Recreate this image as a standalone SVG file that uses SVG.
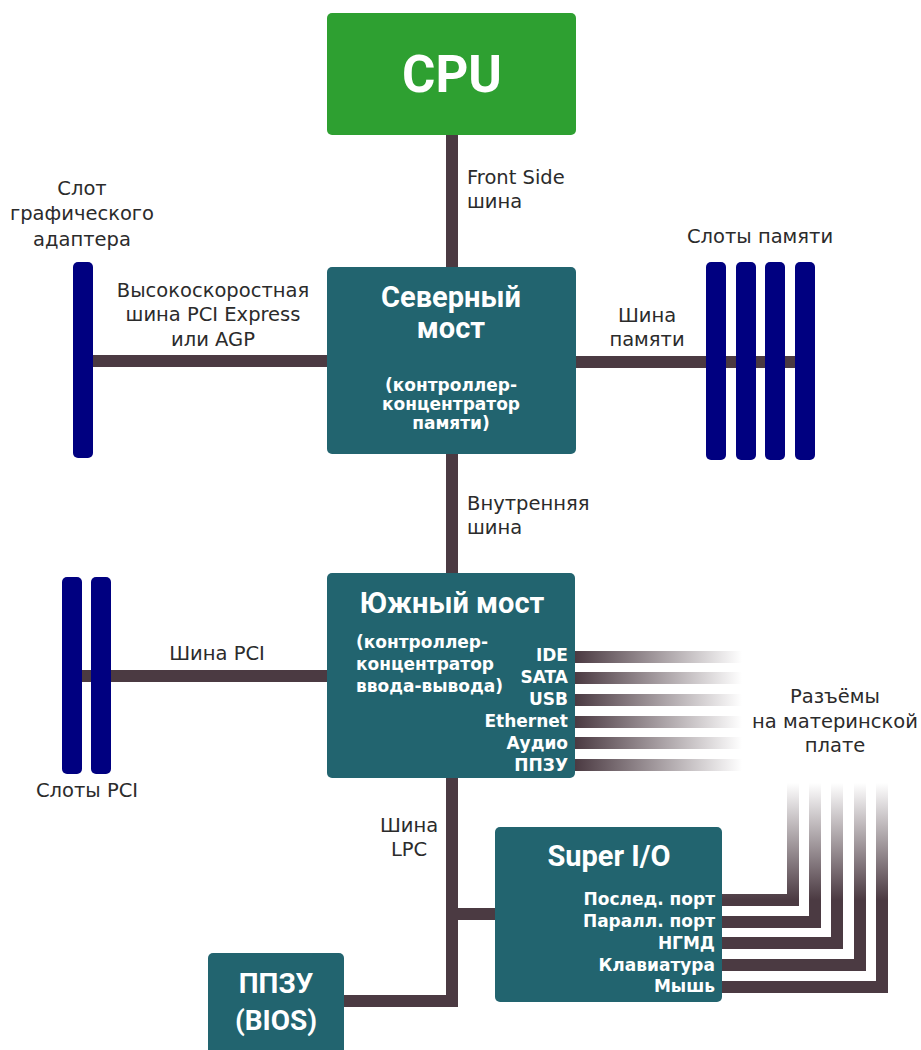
<svg xmlns="http://www.w3.org/2000/svg" width="921" height="1050" viewBox="0 0 921 1050">
<style>
.box{fill:#22646f}
.cpu{fill:#2ea031}
.slot{fill:#000080}
.bus{fill:none;stroke:#4b3a42;stroke-width:12;stroke-linejoin:miter;stroke-linecap:butt}
.title{font-family:Roboto,"Liberation Sans",sans-serif;font-weight:bold;fill:#ffffff;text-anchor:middle}
.sub{font-family:"DejaVu Sans",Verdana,sans-serif;font-weight:bold;font-size:17px;fill:#ffffff}
.lbl{font-family:"DejaVu Sans",Verdana,sans-serif;font-size:19.5px;fill:#2b2b2b}
.r{text-anchor:end}
.m{text-anchor:middle}
</style>
<defs>
<linearGradient id="gh" gradientUnits="userSpaceOnUse" x1="575" y1="0" x2="742" y2="0">
<stop offset="0" stop-color="#4b3a42"/>
<stop offset="1" stop-color="#4b3a42" stop-opacity="0"/>
</linearGradient>
<linearGradient id="gv" gradientUnits="userSpaceOnUse" x1="0" y1="900" x2="0" y2="783">
<stop offset="0" stop-color="#4b3a42"/>
<stop offset="1" stop-color="#4b3a42" stop-opacity="0"/>
</linearGradient>
</defs>

<g id="connectors">
<path class="bus" d="M452 134 V268"/>
<path class="bus" d="M452 453 V574"/>
<path class="bus" d="M83 361 H328"/>
<path class="bus" d="M575 362 H805"/>
<path class="bus" d="M72 676 H328"/>
<path class="bus" d="M452 777 V1001 H343"/>
<path class="bus" d="M452 914 H496"/>
<g fill="url(#gh)">
<rect x="575" y="651" width="167" height="12"/>
<rect x="575" y="672" width="167" height="12"/>
<rect x="575" y="694" width="167" height="12"/>
<rect x="575" y="716" width="167" height="12"/>
<rect x="575" y="737" width="167" height="12"/>
<rect x="575" y="759" width="167" height="12"/>
</g>
<g fill="none" stroke="url(#gv)" stroke-width="12" stroke-linejoin="miter">
<path d="M721 900 H793 V780"/>
<path d="M721 922 H815 V780"/>
<path d="M721 943 H837 V780"/>
<path d="M721 965 H860 V780"/>
<path d="M721 987 H882 V780"/>
</g>
<text class="lbl" x="467" y="184">Front Side</text>
<text class="lbl" x="467" y="208">шина</text>
<text class="lbl m" x="213" y="297">Высокоскоростная</text>
<text class="lbl m" x="213" y="321">шина PCI Express</text>
<text class="lbl m" x="213" y="346">или AGP</text>
<text class="lbl m" x="647" y="322">Шина</text>
<text class="lbl m" x="647" y="346">памяти</text>
<text class="lbl" x="467" y="510">Внутренняя</text>
<text class="lbl" x="467" y="534">шина</text>
<text class="lbl m" x="217" y="660">Шина PCI</text>
<text class="lbl m" x="409" y="832">Шина</text>
<text class="lbl m" x="409" y="856">LPC</text>
</g>

<g id="cpu">
<rect class="cpu" x="327" y="13" width="249" height="122" rx="5"/>
<text class="title" x="452" y="92" font-size="51">CPU</text>
</g>

<g id="northbridge">
<rect class="box" x="327" y="267" width="249" height="187" rx="5"/>
<text class="title" x="451" y="307" font-size="29">Северный</text>
<text class="title" x="451" y="338" font-size="29">мост</text>
<text class="sub m" x="451" y="391">(контроллер-</text>
<text class="sub m" x="451" y="410">концентратор</text>
<text class="sub m" x="451" y="429">памяти)</text>
</g>

<g id="southbridge">
<rect class="box" x="327" y="573" width="248" height="205" rx="5"/>
<text class="title" x="452" y="613" font-size="29">Южный мост</text>
<text class="sub" x="356" y="648">(контроллер-</text>
<text class="sub" x="356" y="670">концентратор</text>
<text class="sub" x="356" y="692">ввода-вывода)</text>
<text class="sub r" x="568" y="661">IDE</text>
<text class="sub r" x="568" y="683">SATA</text>
<text class="sub r" x="568" y="705">USB</text>
<text class="sub r" x="568" y="727">Ethernet</text>
<text class="sub r" x="568" y="749">Аудио</text>
<text class="sub r" x="568" y="771">ППЗУ</text>
</g>

<g id="connectors-label">
<text class="lbl m" x="835" y="703">Разъёмы</text>
<text class="lbl m" x="835" y="728">на материнской</text>
<text class="lbl m" x="835" y="752">плате</text>
</g>

<g id="superio">
<rect class="box" x="495" y="827" width="227" height="175" rx="5"/>
<text class="title" x="609" y="866" font-size="29">Super I/O</text>
<text class="sub r" x="715" y="905">Послед. порт</text>
<text class="sub r" x="715" y="927">Паралл. порт</text>
<text class="sub r" x="715" y="949">НГМД</text>
<text class="sub r" x="715" y="971">Клавиатура</text>
<text class="sub r" x="715" y="992">Мышь</text>
</g>

<g id="bios">
<rect class="box" x="208" y="953" width="136" height="110" rx="5"/>
<text class="title" x="276" y="993" font-size="28">ППЗУ</text>
<text class="title" x="276" y="1030" font-size="28">(BIOS)</text>
</g>

<g id="agp-slot">
<rect class="slot" x="73" y="262" width="20" height="196" rx="5"/>
<text class="lbl m" x="82" y="195">Слот</text>
<text class="lbl m" x="82" y="220">графического</text>
<text class="lbl m" x="82" y="246">адаптера</text>
</g>

<g id="memory-slots">
<rect class="slot" x="706" y="262" width="20" height="198" rx="5"/>
<rect class="slot" x="736" y="262" width="20" height="198" rx="5"/>
<rect class="slot" x="765" y="262" width="20" height="198" rx="5"/>
<rect class="slot" x="795" y="262" width="20" height="198" rx="5"/>
<text class="lbl m" x="760" y="243">Слоты памяти</text>
</g>

<g id="pci-slots">
<rect class="slot" x="62" y="577" width="20" height="197" rx="5"/>
<rect class="slot" x="91" y="577" width="20" height="197" rx="5"/>
<text class="lbl m" x="87" y="797">Слоты PCI</text>
</g>
</svg>
